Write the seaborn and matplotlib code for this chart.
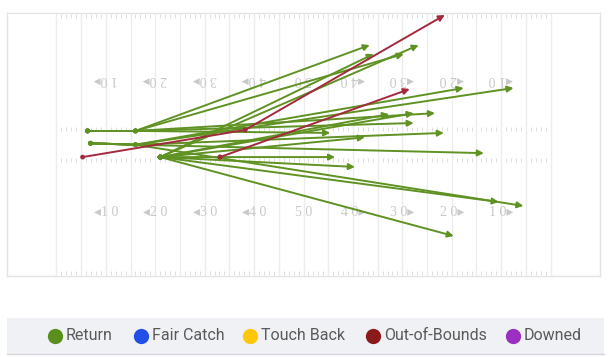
import numpy as np
import pandas as pd
import seaborn as sns
import matplotlib.pyplot as plt
from matplotlib.lines import Line2D
from matplotlib.patches import Rectangle

# kick plays in field yards (x: 0 = left goal line, y: yards from top sideline)
play_type = ["Return"] * 19 + ["Out-of-Bounds"] * 2
kick_x = [6.3] * 5 + [6.9] * 5 + [21.0] * 9 + [5.3, 33.1]
kick_y = [23.9] * 5 + [26.4] * 5 + [29.2] * 9 + [29.2, 29.2]
catch_x = [16.0] * 5 + [16.0] * 5 + [21.0] * 9 + [38.2, 33.1]
catch_y = [23.9] * 5 + [26.7] * 5 + [29.2] * 9 + [23.7, 29.2]
end_x = [63.4, 70.3, 72.3, 55.4, 76.6,
         82.4, 92.5, 78.4, 86.5, 94.5,
         73.3, 64.2, 67.3, 62.4, 56.4, 60.4, 89.5, 80.4, 72.3,
         78.6, 71.5]
end_y = [6.5, 8.3, 22.3, 24.3, 20.3,
         15.2, 15.2, 24.3, 28.4, 39.1,
         6.5, 8.3, 20.5, 25.2, 29.2, 31.2, 38.3, 45.2, 20.3,
         0.4, 15.4]

legend_labels = ["Return", "Fair Catch", "Touch Back", "Out-of-Bounds", "Downed"]
legend_colors = ["#5a8f1e", "#2250e6", "#ffc60a", "#8c1a1a", "#9a2fc0"]
line_colors = {"Return": "#5f9222", "Out-of-Bounds": "#a3293d"}

number_labels = ["10", "20", "30", "40", "50", "40", "30", "20", "10"]
number_x = [10, 20, 30, 40, 50, 60, 70, 80, 90]

df = pd.DataFrame({"type": play_type, "kx": kick_x, "ky": kick_y,
                   "cx": catch_x, "cy": catch_y, "ex": end_x, "ey": end_y})

sns.set_theme(style="white")
fig = plt.figure(figsize=(6.14, 3.57), dpi=100)
ax = fig.add_axes([7 / 614, 1 - 276 / 357, 593 / 614, 263 / 357])
ax.set_xlim(-10, 110)
ax.set_ylim(53.3, 0)
ax.set_xticks([])
ax.set_yticks([])
for s in ax.spines.values():
    s.set_color("#e4e4e4")
    s.set_linewidth(1)

# yard lines and hash marks
ax.vlines(np.arange(0, 101, 5), 0, 53.3, color="#ececec", lw=1, zorder=0)
hx = np.array([v for v in range(1, 100) if v % 5])
for y0, y1 in [(0.2, 1.0), (23.2, 24.0), (29.3, 30.1), (52.3, 53.1)]:
    ax.vlines(hx, y0, y1, color="#dcdcdc", lw=0.7, zorder=0)

# field numbers (top row upside down)
num_font = ["Liberation Serif", "DejaVu Serif"]
for lab, x in zip(number_labels, number_x):
    digits = " ".join(lab)
    if x < 50:
        top, bot = digits + "\u25b8", "\u25c2" + digits
    elif x > 50:
        top, bot = "\u25c2" + digits, digits + "\u25b8"
    else:
        top, bot = digits, digits
    ax.text(x, 13.4, top, rotation=180, ha="center", va="center", fontsize=10,
            color="#c9c9c9", family=num_font, zorder=1)
    ax.text(x, 40.4, bot, ha="center", va="center", fontsize=10,
            color="#c9c9c9", family=num_font, zorder=1)

# kick segments and return arrows
for _, r in df.iterrows():
    c = line_colors[r["type"]]
    if (r["kx"], r["ky"]) != (r["cx"], r["cy"]):
        ax.plot([r["kx"], r["cx"]], [r["ky"], r["cy"]], color=c, lw=1.4, zorder=3)
    ax.annotate("", xy=(r["ex"], r["ey"]), xytext=(r["cx"], r["cy"]),
                arrowprops=dict(arrowstyle="-|>", color=c, lw=1.4,
                                mutation_scale=9, shrinkA=0, shrinkB=0),
                zorder=3)

dots = pd.concat([df[["type", "kx", "ky"]].rename(columns={"kx": "x", "ky": "y"}),
                  df[["type", "cx", "cy"]].rename(columns={"cx": "x", "cy": "y"})])
sns.scatterplot(data=dots, x="x", y="y", hue="type", palette=line_colors,
                s=12, linewidth=0, legend=False, ax=ax, zorder=4)
ax.set_xlabel("")
ax.set_ylabel("")

# legend bar
fig.patches.append(Rectangle((7 / 614, 1 - 354 / 357), 597 / 614, 36 / 357,
                             transform=fig.transFigure, facecolor="#f0f1f4",
                             edgecolor="none", zorder=0))
fig.add_artist(Line2D([7 / 614, 604 / 614], [1 - 354 / 357] * 2,
                      transform=fig.transFigure, color="#d6d6da", lw=1))
legend_px = [55, 141, 250, 373, 513]
ly = 1 - 336 / 357
for px, lab, c in zip(legend_px, legend_labels, legend_colors):
    fig.add_artist(Line2D([px / 614], [ly], marker="o", ls="", markersize=11,
                          color=c, markeredgewidth=0, transform=fig.transFigure))
    fig.text((px + 11) / 614, ly, lab, ha="left", va="center", fontsize=11.5,
             color="#5a5a5a", family="Roboto")

fig.savefig("out.png", dpi=100)
